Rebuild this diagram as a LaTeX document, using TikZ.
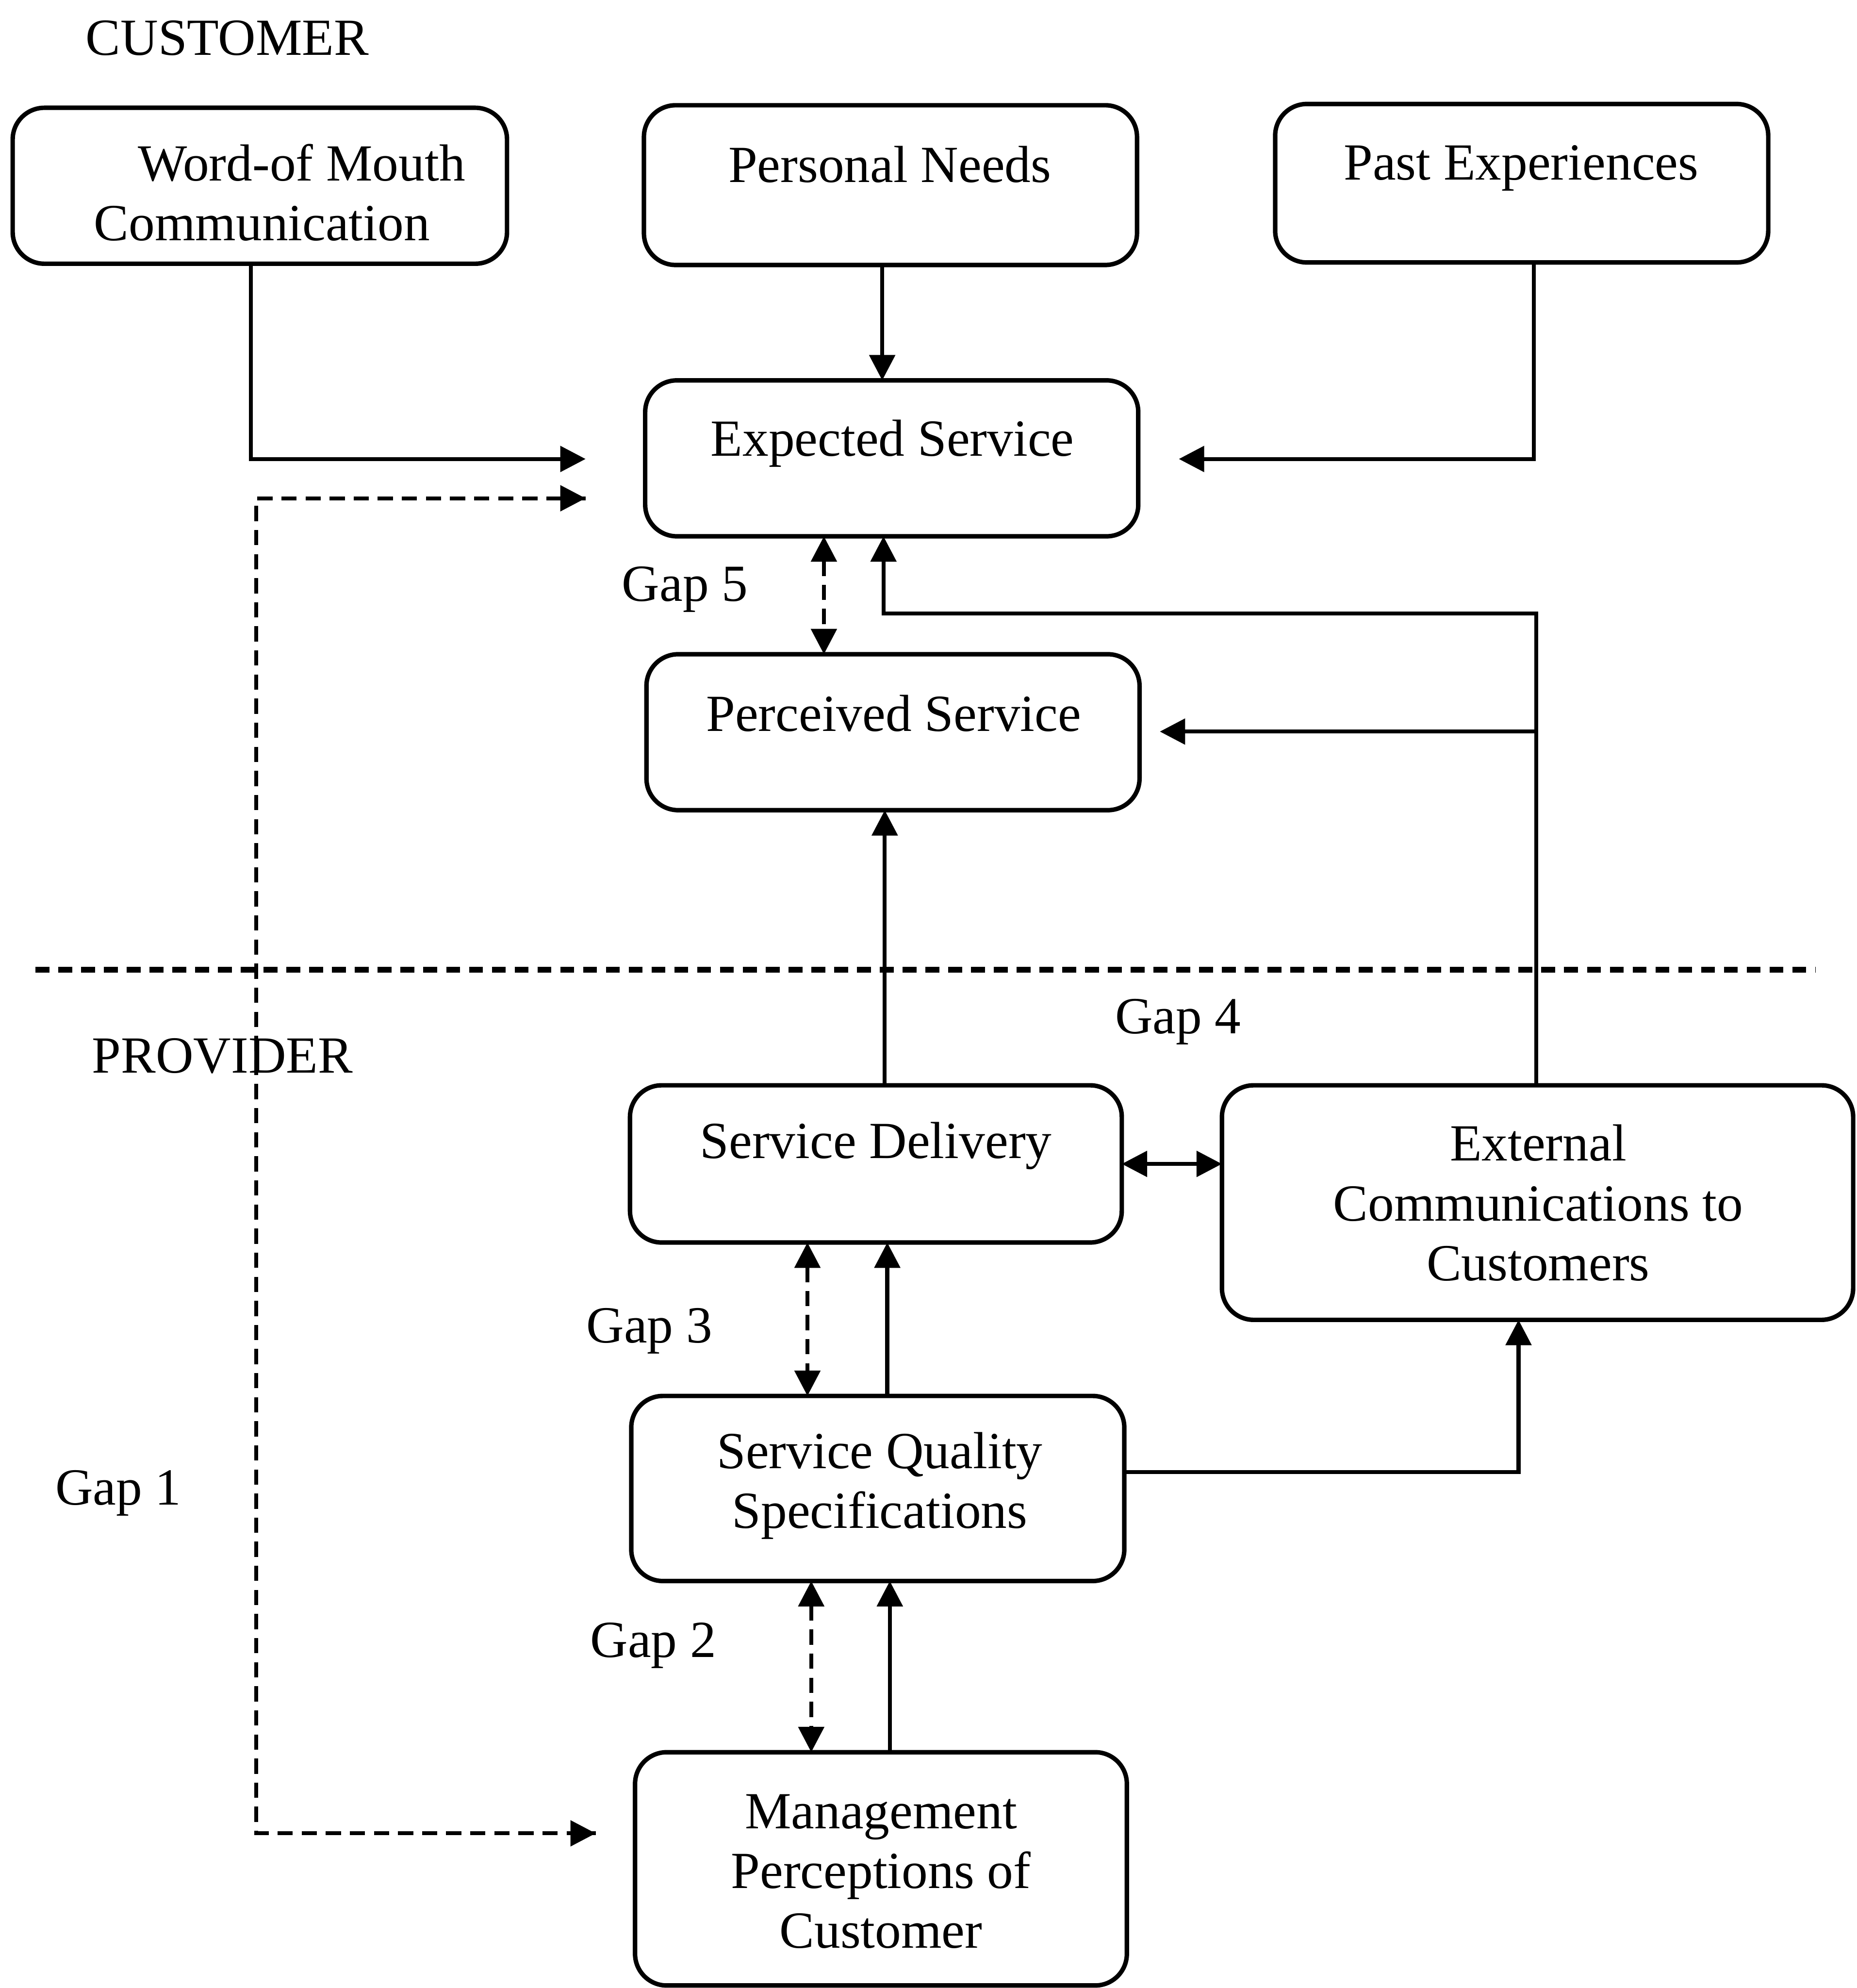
\documentclass[tikz,border=0pt]{standalone}
\usepackage{fontspec}
\setmainfont{Liberation Serif}
\usetikzlibrary{arrows.meta}
\begin{document}
\begin{tikzpicture}[x=0.1mm,y=-0.1mm,
  box/.style={draw,line width=1pt,rounded corners=2.5mm,inner sep=0,outer sep=0},
  txt/.style={font=\fontsize{11.7}{13.4}\selectfont,inner sep=0,align=center,anchor=north},
  lbl/.style={font=\fontsize{11.7}{13.4}\selectfont,inner sep=0,anchor=base west},
  tip/.tip={Triangle[width=2mm,length=2mm]},
  conn/.style={line width=0.9pt,-tip},
  dconn/.style={line width=0.9pt,dash pattern=on 1.2mm off 0.7mm,tip-tip},
  dline/.style={line width=0.9pt,dash pattern=on 1.2mm off 0.7mm},
  sepline/.style={line width=1.3pt,dash pattern=on 1.1mm off 0.7mm}]
\useasboundingbox (0,0) rectangle (1465,1568);

% boxes
\node[box,minimum width=39mm,minimum height=12.3mm] (wom) at (205,146.5) {};
\node[box,minimum width=38.9mm,minimum height=12.6mm] (pn) at (702.5,146) {};
\node[box,minimum width=38.9mm,minimum height=12.5mm] (pe) at (1200.5,144.5) {};
\node[box,minimum width=38.9mm,minimum height=12.3mm] (es) at (703.5,361.5) {};
\node[box,minimum width=38.9mm,minimum height=12.3mm] (ps) at (704.5,577.5) {};
\node[box,minimum width=38.8mm,minimum height=12.4mm] (sd) at (691,918) {};
\node[box,minimum width=49.8mm,minimum height=18.5mm] (ec) at (1213,948.5) {};
\node[box,minimum width=38.9mm,minimum height=14.6mm] (sqs) at (692.5,1174) {};
\node[box,minimum width=38.8mm,minimum height=18.4mm] (mp) at (695,1474) {};

% box texts
\node[txt,align=left,anchor=north west] (t-wom) at (73.5,109) {\strut\hspace*{3.47mm}Word-of Mouth\\Communication};
\node[txt] (t-pn) at (702,110) {\strut Personal Needs};
\node[txt] (t-pe) at (1200,108) {\strut Past Experiences};
\node[txt] (t-es) at (704,326) {\strut Expected Service};
\node[txt] (t-ps) at (705,543) {\strut Perceived Service};
\node[txt] (t-sd) at (691,880) {\strut Service Delivery};
\node[txt] (t-ec) at (1213.5,882) {\strut External\\Communications to\\Customers};
\node[txt] (t-sqs) at (694,1124.5) {\strut Service Quality\\Specifications};
\node[txt] (t-mp) at (695,1408.5) {\strut Management\\Perceptions of\\Customer};

% labels
\node[lbl] (customer) at (67,43.5) {CUSTOMER};
\node[lbl] (provider) at (72,846) {PROVIDER};
\node[lbl] (gap5) at (490,474) {Gap 5};
\node[lbl] (gap4) at (879,815) {Gap 4};
\node[lbl] (gap3) at (462,1059) {Gap 3};
\node[lbl] (gap2) at (465,1307) {Gap 2};
\node[lbl] (gap1) at (43,1187) {Gap 1};

% free ends
\coordinate (womend) at (462,362);
\coordinate (peend) at (930,362);
\coordinate (g1top) at (462,393);
\coordinate (g1corner) at (202,393);
\coordinate (g1bot) at (202,1446);
\coordinate (g1end) at (470,1446);
\coordinate (ecturn) at (1212,484);
\coordinate (ecbranch) at (1212,577);
\coordinate (psend) at (915,577);
\coordinate (sepl) at (28,765);
\coordinate (sepr) at (1432,765);

% separator
\draw[sepline] (sepl) -- (sepr);

% customer side connectors
\draw[conn] (198,0 |- wom.south) |- (womend);
\draw[conn] (696,0 |- pn.south) -- (696,0 |- es.north);
\draw[conn] (1210,0 |- pe.south) |- (peend);
\draw[dline] (g1top) -- (g1corner) -- (g1bot) -- (g1end);
\draw[line width=0.9pt,-tip] ([xshift=-0.5mm]g1top) -- (g1top);
\draw[line width=0.9pt,-tip] ([xshift=-0.5mm]g1end) -- (g1end);
\draw[dconn] (650,0 |- es.south) -- (650,0 |- ps.north);
\draw[conn] (1212,0 |- ec.north) -- (ecturn) -| (697,0 |- es.south);
\draw[conn] (ecbranch) -- (psend);
\draw[conn] (698,0 |- sd.north) -- (698,0 |- ps.south);

% provider side connectors
\draw[line width=0.9pt,tip-tip] (sd.east |- 0,918) -- (ec.west |- 0,918);
\draw[dconn] (637,0 |- sd.south) -- (637,0 |- sqs.north);
\draw[conn] (700,0 |- sqs.north) -- (700,0 |- sd.south);
\draw[conn] (sqs.east |- 0,1161) -| (1198,0 |- ec.south);
\draw[dconn] (640,0 |- sqs.south) -- (640,0 |- mp.north);
\draw[conn] (702,0 |- mp.north) -- (702,0 |- sqs.south);
\end{tikzpicture}
\end{document}
